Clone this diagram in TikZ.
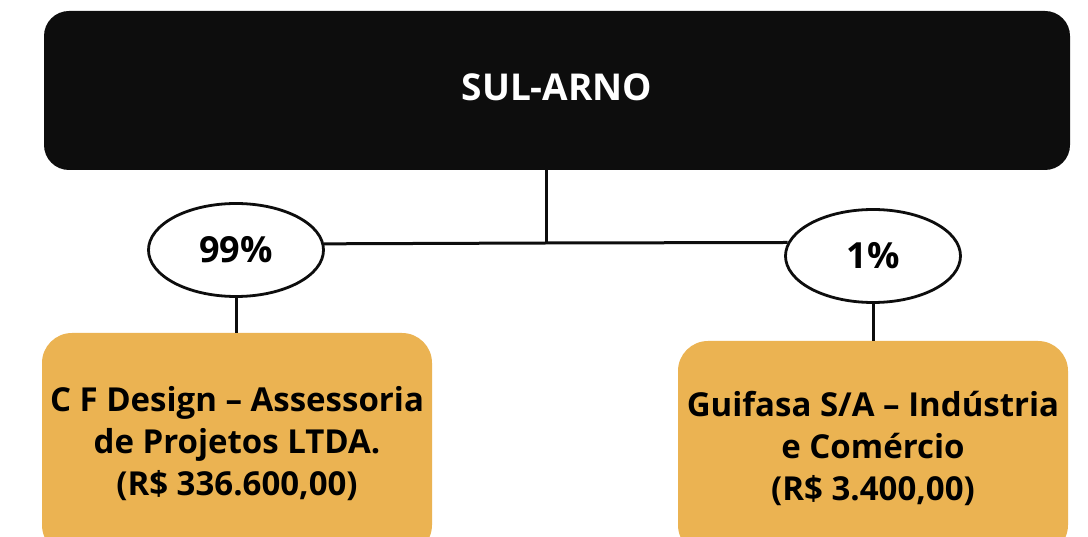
\documentclass[tikz,border=0pt]{standalone}
\usepackage{fontspec}
\setmainfont{Open Sans}
\usetikzlibrary{shapes.geometric}
\definecolor{boxblack}{HTML}{0D0D0D}
\definecolor{boxorange}{HTML}{EBB352}
\tikzset{
  topbox/.style={draw=none, fill=boxblack, rounded corners=25pt, minimum width=1026pt, minimum height=159pt, inner sep=0pt, text=white, font=\bfseries\fontsize{37}{44}\selectfont},
  pctnode/.style={draw=boxblack, line width=2.8pt, fill=white, ellipse, minimum width=175pt, minimum height=93pt, inner sep=0pt, font=\bfseries\fontsize{36}{40}\selectfont},
  compbox/.style={draw=none, fill=boxorange, rounded corners=30pt, minimum width=390pt, inner sep=0pt, align=center, font=\bfseries\fontsize{33}{42}\selectfont},
  link/.style={draw=boxblack, line width=3pt}
}
\begin{document}
\begin{tikzpicture}[x=1pt,y=-1pt]
\useasboundingbox (0,0) rectangle (1088,537);
\clip (0,0) rectangle (1088,537);
\node[topbox] (top) at (557,90.5) {\raisebox{7pt}{SUL-ARNO}};
\coordinate (hub) at (546,243);
\node[compbox, minimum height=222pt] (cf) at (237,444) {C F Design – Assessoria\\de Projetos LTDA.\\(R\$ 336.600,00)};
\node[compbox, minimum height=214pt] (gf) at (873,448) {Guifasa S/A – Indústria\\e Comércio\\(R\$ 3.400,00)};
\draw[link] (top.south -| hub) -- (hub);
\node[pctnode] (p99) at (236,250) {99\%};
\node[pctnode] (p1) at (873,256) {1\%};
\draw[link] (p99.4.6) -- (hub) -- (p1.171.4);
\draw[link] (p99.south) -- (p99.south |- cf.north);
\draw[link] (p1.south) -- (p1.south |- gf.north);
\end{tikzpicture}
\end{document}
